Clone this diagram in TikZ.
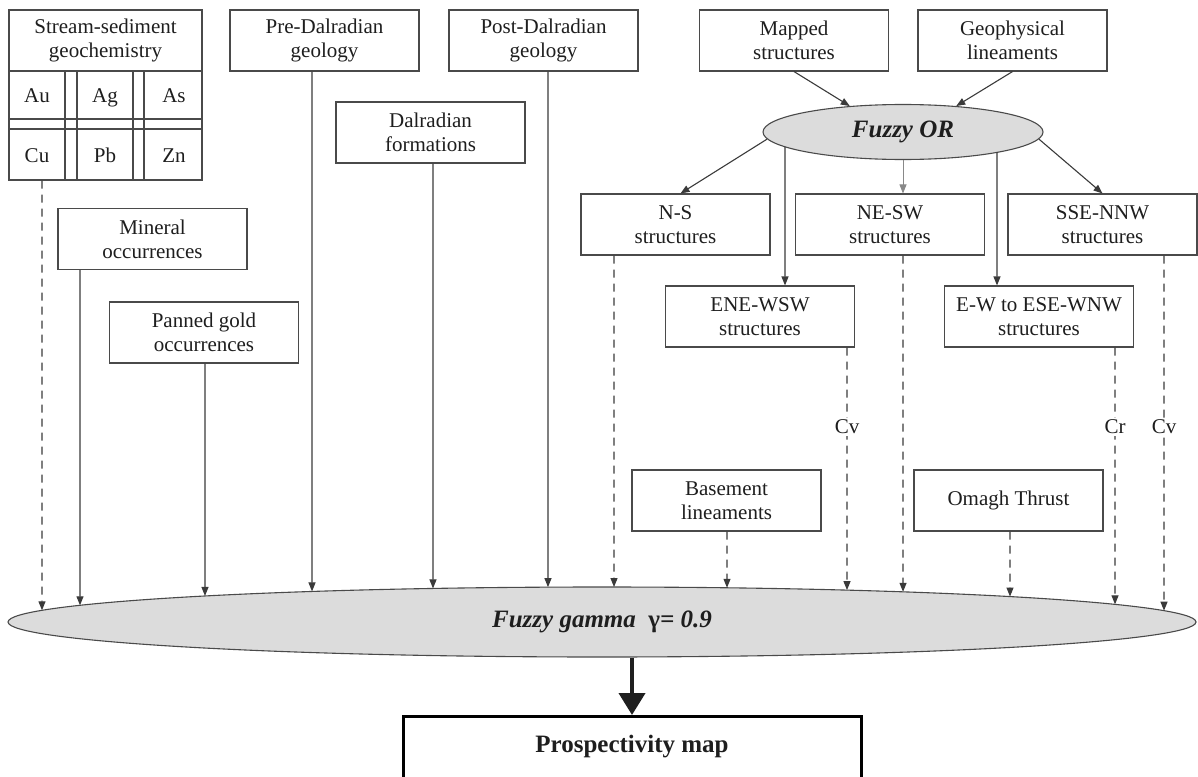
\documentclass[tikz,border=0pt]{standalone}
\usepackage{fontspec}
\setmainfont{Liberation Serif}
\usetikzlibrary{shapes.geometric,arrows.meta,intersections,calc}

\definecolor{linec}{HTML}{3A3A3A}
\definecolor{boxc}{HTML}{4A4A4A}
\definecolor{ellfill}{HTML}{DCDCDC}
\definecolor{txtc}{HTML}{1E1E1E}

\newcommand\bxf{\fontsize{21}{24}\selectfont}
\newcommand\bgf{\fontsize{25}{28}\selectfont\bfseries}

% connector from a start coordinate straight down to the first crossing with a path
\newcommand\downto[4]{%
  \path[name path=ln#4] (#2) -- ++(0,800);
  \path[name intersections={of=ln#4 and #3, by={#4}, sort by=ln#4}];
  \draw[#1] (#2) -- (#4);
}
% connector from the first crossing of a path (going up) straight down to an end coordinate
\newcommand\upfrom[4]{%
  \path[name path=ln#4] (#2) -- ++(0,-400);
  \path[name intersections={of=ln#4 and #3, by={#4}, sort by=ln#4}];
  \draw[#1] (#4) -- (#2);
}

\begin{document}
\begin{tikzpicture}[x=1pt,y=-1pt,
  box/.style={draw=boxc, line width=1.1pt, fill=white, minimum width=189pt,
    minimum height=61pt, inner sep=0pt, align=center, font=\bxf, text=txtc},
  cell/.style={inner sep=0pt, font=\bxf, text=txtc, anchor=base},
  frame/.style={draw=boxc, line width=1.1pt},
  conn/.style={draw=linec, line width=1.1pt, -{Triangle[length=9pt,width=7pt]}},
  dconn/.style={conn, dash pattern=on 8pt off 6pt},
  lbl/.style={fill=white, inner sep=1.5pt, font=\bxf, text=txtc},
  fuzz/.style={ellipse, draw=boxc, line width=1.1pt, fill=ellfill, inner sep=0pt,
    font=\bgf\itshape, text=txtc},
]
\useasboundingbox (0,0) rectangle (1198,776);
\clip (0,0) rectangle (1198,776);

% --- stream-sediment geochemistry block
\node[frame, minimum width=193pt, minimum height=170pt, inner sep=0pt] (geobox) at (105.5,95) {};
\draw[frame] (9,71) -- (202,71)
  (9,119) -- (202,119) (9,129) -- (202,129)
  (65,71) -- (65,180) (77,71) -- (77,180)
  (133,71) -- (133,180) (144,71) -- (144,180);
\node[inner sep=0pt, font=\bxf, text=txtc, align=center] (geo) at (105.5,40.5) {Stream-sediment\\geochemistry};
\node[cell] (au) at (37,102) {Au};
\node[cell] (ag) at (105,102) {Ag};
\node[cell] (as) at (174,102) {As};
\node[cell] (cu) at (37,162) {Cu};
\node[cell] (pb) at (105,162) {Pb};
\node[cell] (zn) at (174,162) {Zn};

% --- boxes
\node[box] (pre) at (324.5,40.5) {Pre-Dalradian\\geology};
\node[box] (post) at (543.5,40.5) {Post-Dalradian\\geology};
\node[box] (map) at (794,40.5) {Mapped\\structures};
\node[box] (geoph) at (1012.5,40.5) {Geophysical\\lineaments};
\node[box] (dal) at (430.5,132.5) {Dalradian\\formations};
\node[box] (min) at (152.5,239) {Mineral\\occurrences};
\node[box] (pan) at (204,332.5) {Panned gold\\occurrences};
\node[box] (ns) at (675.5,224.5) {N-S\\structures};
\node[box] (nesw) at (890,224.5) {NE-SW\\structures};
\node[box] (sse) at (1102.5,224.5) {SSE-NNW\\structures};
\node[box] (ene) at (760,316.5) {ENE-WSW\\structures};
\node[box] (ew) at (1039,316.5) {E-W to ESE-WNW\\structures};
\node[box] (base) at (726.5,500.5) {Basement\\lineaments};
\node[box] (omagh) at (1008.5,500.5) {Omagh Thrust};

% --- ellipses
\node[fuzz, minimum width=280pt, minimum height=55pt] (or) at (903,132) {Fuzzy OR};
\path[name path=orp] (903,132) ellipse (140 and 27.5);
\node[fuzz, minimum width=1188pt, minimum height=70pt] (gam) at (602,622)
  {Fuzzy gamma\ \ {\upshape γ}= 0.9};
\path[name path=gp] (602,622) ellipse (594 and 35);

% --- prospectivity map
\node[draw=black, line width=3pt, minimum width=458pt, anchor=north, inner sep=0pt,
  text height=36pt, text depth=40pt, font=\bgf, text=txtc] (prosp) at (632,715) {Prospectivity map};
\draw[black!88, line width=4pt, -{Triangle[length=22pt,width=26pt]}]
  (prosp.north |- gam.south) -- (prosp.north);

% --- fuzzy OR inputs and outputs
\draw[conn] (map.south) -- (or.154);
\draw[conn] (geoph.south) -- (or.26);
\draw[conn] (or.183) -- ([xshift=5pt]ns.north);
\draw[conn] (or.357) -- (sse.north);
\draw[conn, draw=linec!60, line width=0.8pt] (or.south) -- (or.south |- nesw.north);
\coordinate (eneT) at ($(ene.north)+(25,0)$);
\coordinate (ewT) at ($(ew.north)+(-42,0)$);
\upfrom{conn}{eneT}{orp}{eneI}
\upfrom{conn}{ewT}{orp}{ewI}

% --- start points of the inputs of fuzzy gamma
\coordinate (cuS) at ($(cu |- geobox.south)+(5,0)$);
\coordinate (minS) at ($(min.south)+(-72.5,0)$);
\coordinate (panS) at ($(pan.south)+(1,0)$);
\coordinate (preS) at ($(pre.south)+(-12.5,0)$);
\coordinate (dalS) at ($(dal.south)+(2.5,0)$);
\coordinate (postS) at ($(post.south)+(4.5,0)$);
\coordinate (nsS) at ($(ns.south)+(-61.5,0)$);
\coordinate (baseS) at ($(base.south)+(0.5,0)$);
\coordinate (eneS) at ($(ene.south)+(87,0)$);
\coordinate (neswS) at (or.south |- nesw.south);
\coordinate (omaghS) at ($(omagh.south)+(1.5,0)$);
\coordinate (ewS) at ($(ew.south)+(76,0)$);
\coordinate (sseS) at ($(sse.south)+(61.5,0)$);

\downto{dconn}{cuS}{gp}{cuE}
\downto{conn}{minS}{gp}{minE}
\downto{conn}{panS}{gp}{panE}
\downto{conn}{preS}{gp}{preE}
\downto{conn}{dalS}{gp}{dalE}
\downto{conn}{postS}{gp}{postE}
\downto{dconn}{nsS}{gp}{nsE}
\downto{dconn}{baseS}{gp}{baseE}
\downto{dconn}{eneS}{gp}{eneE}
\downto{dconn}{neswS}{gp}{neswE}
\downto{dconn}{omaghS}{gp}{omaghE}
\downto{dconn}{ewS}{gp}{ewE}
\downto{dconn}{sseS}{gp}{sseE}

% --- labels on connectors
\node[lbl] (cv1) at (eneS |- 0,427) {Cv};
\node[lbl] (cr) at (ewS |- 0,427) {Cr};
\node[lbl] (cv2) at (sseS |- 0,427) {Cv};
\end{tikzpicture}
\end{document}
